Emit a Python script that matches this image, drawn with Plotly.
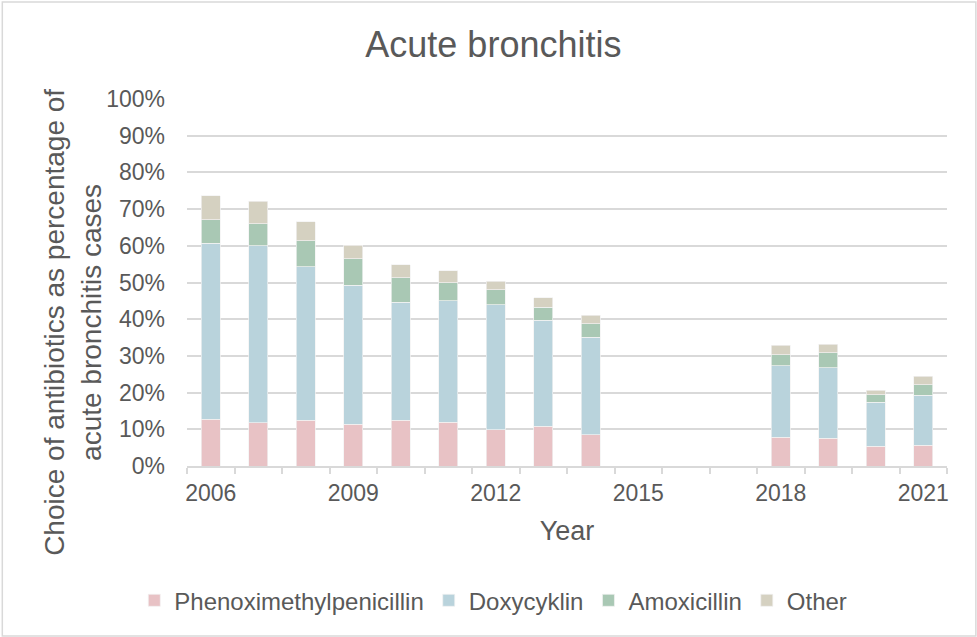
import plotly.graph_objects as go

# Share of acute bronchitis cases (%) by antibiotic
years = list(range(2006, 2022))
pheno = [12.7, 11.8, 12.4, 11.4, 12.4, 11.9, 9.9, 10.8, 8.5, None, None, None, 7.8, 7.5, 5.4, 5.7]
doxy = [48.0, 48.2, 41.9, 37.8, 32.2, 33.1, 34.0, 28.9, 26.6, None, None, None, 19.5, 19.3, 12.0, 13.6]
amox = [6.4, 6.0, 7.1, 7.3, 6.7, 4.9, 4.1, 3.5, 3.7, None, None, None, 3.0, 4.1, 2.0, 2.9]
other = [6.5, 6.1, 5.1, 3.7, 3.5, 3.3, 2.4, 2.6, 2.3, None, None, None, 2.6, 2.3, 1.3, 2.3]

series = [
    ("Phenoximethylpenicillin", pheno, "#E8C2C5"),
    ("Doxycyklin", doxy, "#B9D3DC"),
    ("Amoxicillin", amox, "#A9C8B4"),
    ("Other", other, "#D5D1C1"),
]

grey = "#595959"
font = "Liberation Sans, Arial, sans-serif"

fig = go.Figure()
for name, vals, color in series:
    fig.add_trace(go.Bar(
        x=years,
        y=[v / 100 if v is not None else None for v in vals],
        name=name,
        marker=dict(color=color, line=dict(color="#F2F2F2", width=0.7)),
        width=0.4,
    ))

# plot area in the reference: x 187..947, y 99..466
fig.update_layout(
    barmode="stack",
    width=977,
    height=637,
    plot_bgcolor="white",
    paper_bgcolor="white",
    margin=dict(l=187, r=30, t=99, b=171),
    font=dict(family=font, color=grey, size=23),
    title=dict(text="Acute bronchitis", x=0.505, xanchor="center", y=0.93, yanchor="middle",
               font=dict(size=36, color=grey)),
    legend=dict(orientation="h", x=0.403, xanchor="center", y=-0.367, yanchor="middle",
                font=dict(size=24, color=grey), itemwidth=30, traceorder="normal"),
    shapes=[dict(type="rect", xref="paper", yref="paper", x0=-0.243, x1=1.038, y0=-0.463, y1=1.264,
                 line=dict(color="#D9D9D9", width=1.5), layer="below")],
    # y-axis title placed as annotation so it sits where the reference has it
    annotations=[dict(text="Choice of antibiotics as percentage of<br>acute bronchitis cases",
                      xref="paper", yref="paper", x=-0.150, y=0.39, xanchor="center", yanchor="middle",
                      textangle=-90, showarrow=False, font=dict(size=28, color=grey))],
)

fig.update_xaxes(
    range=[2005.5, 2021.5],
    tickvals=years[::3],
    ticks="",
    showgrid=False,
    showline=True,
    linecolor="#D9D9D9",
    linewidth=1.5,
    tickfont=dict(size=23, color=grey),
    ticklabelstandoff=6,
    title=dict(text="Year", font=dict(size=27, color=grey), standoff=16),
    minor=dict(tickvals=[y - 0.5 for y in years] + [years[-1] + 0.5], ticks="outside",
               ticklen=6, tickcolor="#D9D9D9", tickwidth=1.5, showgrid=False),
)

fig.update_yaxes(
    range=[0, 1.0],
    dtick=0.1,
    tickformat=".0%",
    showgrid=True,
    gridcolor="#D9D9D9",
    gridwidth=1.5,
    zeroline=False,
    tickfont=dict(size=23, color=grey),
    ticklabelstandoff=21,
)

fig.write_html("out.html", config={"displayModeBar": False},
               post_script="document.body.style.margin='0px';")
